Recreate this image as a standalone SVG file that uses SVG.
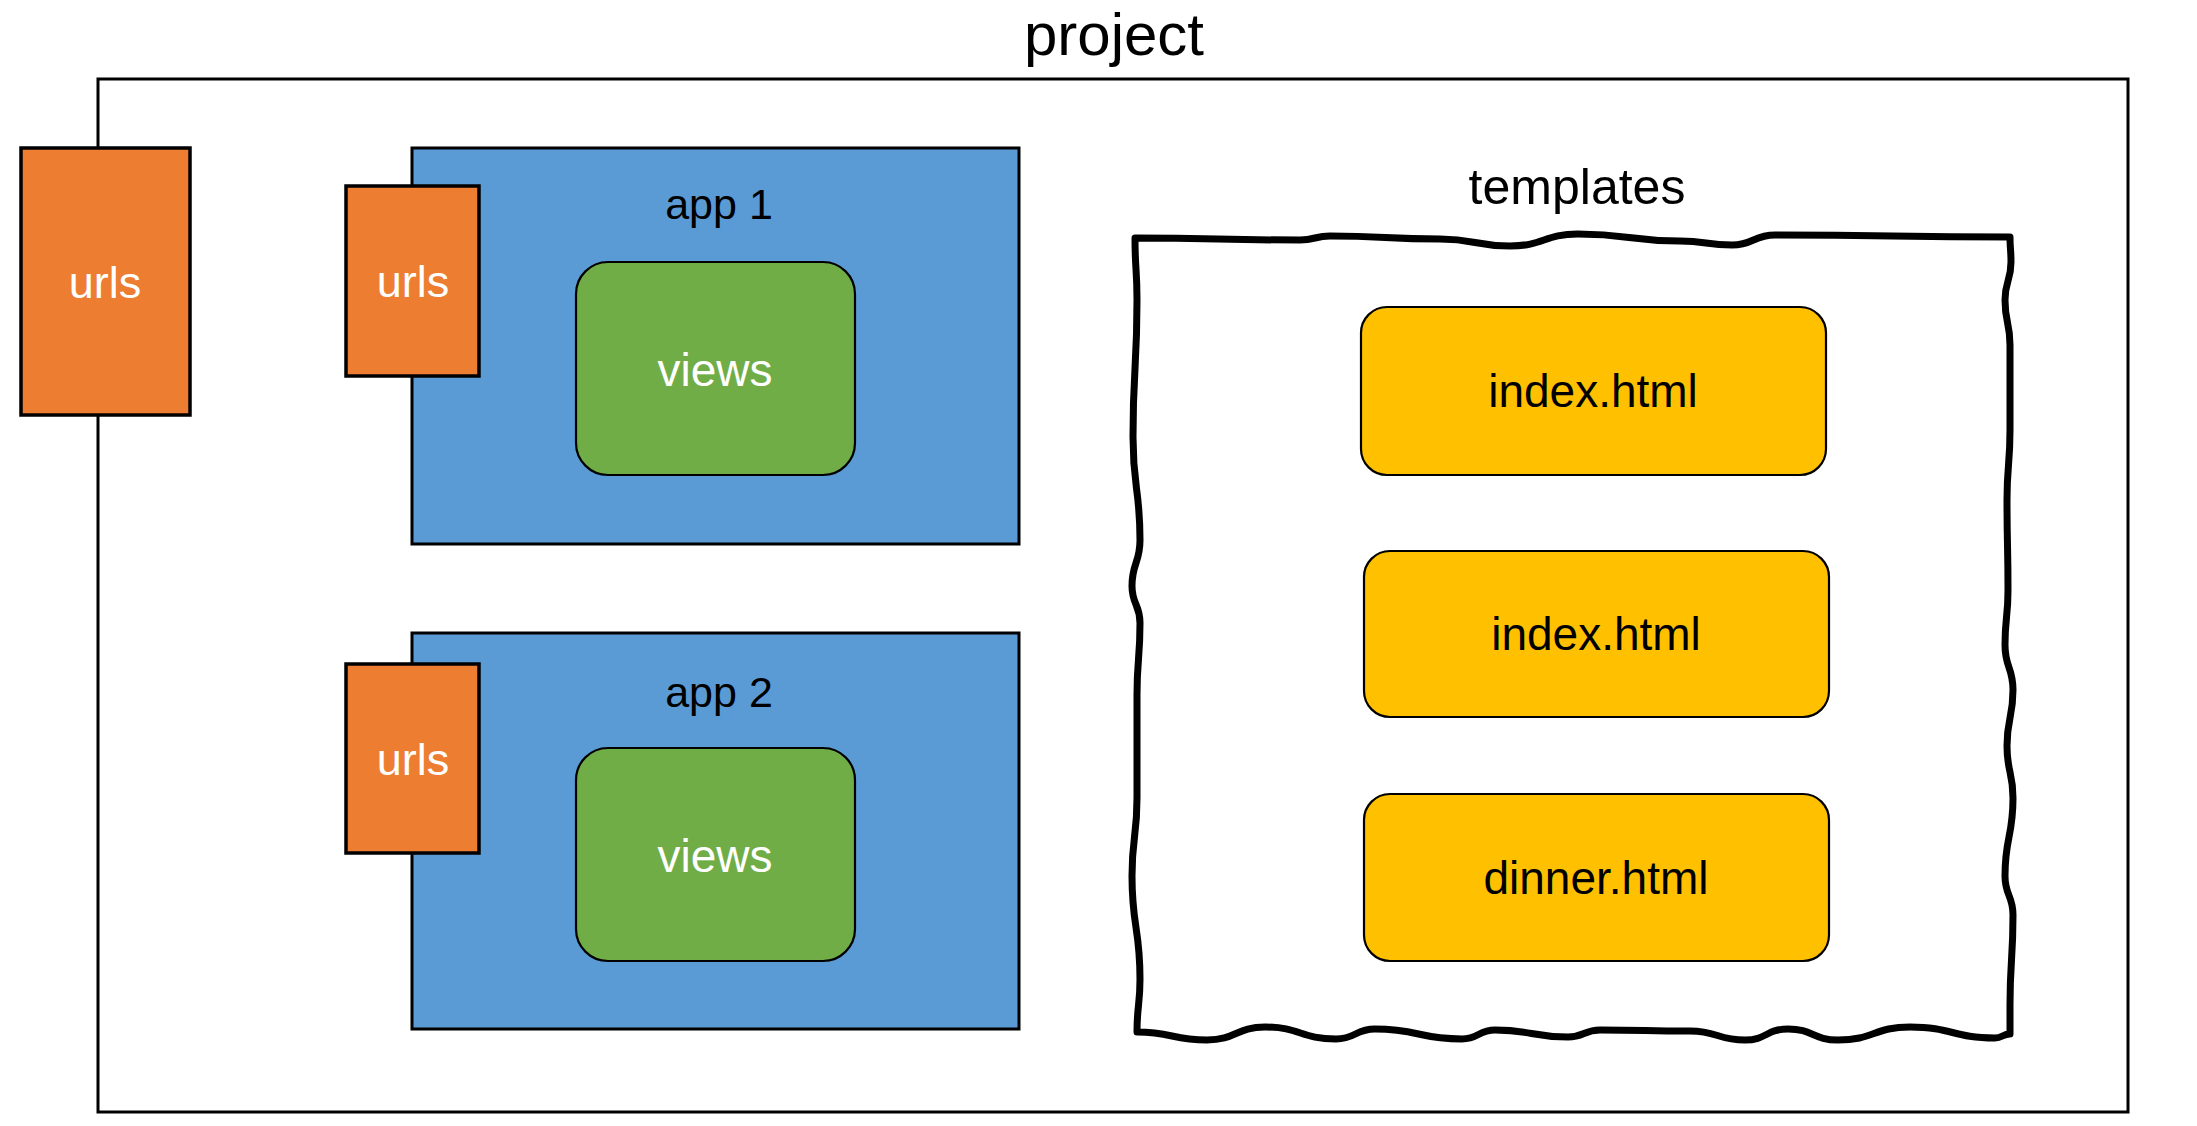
<svg xmlns="http://www.w3.org/2000/svg" width="2197" height="1126" viewBox="0 0 2197 1126">
<style>
  text { font-family: "Liberation Sans", Arial, Helvetica, sans-serif; text-anchor: middle; }
  .lbl { font-size: 46px; fill: #000; }
  .wlbl { font-size: 45px; fill: #fff; }
  .urls { fill: #ED7D31; stroke: #000; stroke-width: 3.5; }
  .app { fill: #5B9BD5; stroke: #000; stroke-width: 3; }
  .views { fill: #70AD47; stroke: #000; stroke-width: 2.2; }
  .tpl { fill: #FFC000; stroke: #000; stroke-width: 2.2; }
</style>
<rect width="2197" height="1126" fill="#fff"/>

<g id="project">
  <rect x="98" y="79" width="2030" height="1033" fill="#fff" stroke="#000" stroke-width="3"/>
  <text x="1114" y="55" style="font-size:60px;fill:#000">project</text>
</g>

<g id="project-urls">
  <rect class="urls" x="21" y="148" width="169" height="267"/>
  <text class="wlbl" x="105" y="298">urls</text>
</g>

<g id="app1">
  <rect class="app" x="412" y="148" width="607" height="396"/>
  <text class="lbl" x="719" y="219" style="font-size:43px">app 1</text>
</g>
<g id="app1-urls">
  <rect class="urls" x="346" y="186" width="133" height="190"/>
  <text class="wlbl" x="413" y="297">urls</text>
</g>
<g id="app1-views">
  <rect class="views" x="576" y="262" width="279" height="213" rx="32" ry="32"/>
  <text class="wlbl" x="715" y="386" style="font-size:46px">views</text>
</g>

<g id="app2">
  <rect class="app" x="412" y="633" width="607" height="396"/>
  <text class="lbl" x="719" y="707" style="font-size:43px">app 2</text>
</g>
<g id="app2-urls">
  <rect class="urls" x="346" y="664" width="133" height="189"/>
  <text class="wlbl" x="413" y="775">urls</text>
</g>
<g id="app2-views">
  <rect class="views" x="576" y="748" width="279" height="213" rx="32" ry="32"/>
  <text class="wlbl" x="715" y="872" style="font-size:46px">views</text>
</g>

<g id="templates">
  <path fill="#fff" stroke="#000" stroke-width="7" stroke-linejoin="round"
    d="M1135,238
       C1217.5,238 1217.5,240 1300,240 C1315,240 1315,236 1330,236 C1385,236 1385,239 1440,239 C1475,239 1475,246 1510,246 C1544,246 1544,234 1578,234 C1629,234 1629,241 1680,241 C1706,241 1706,245 1732,245 C1753.5,245 1753.5,235 1775,235 C1892.5,235 1892.5,237 2010,237
       C2010,249.5 2011,249.5 2011,262 C2011,281 2005,281 2005,300 C2005,322.5 2010,322.5 2010,345 L2010,430 C2010,465 2007,465 2007,500 C2007,545 2008,545 2008,590 C2008,617.5 2005,617.5 2005,645 C2005,667.5 2013,667.5 2013,690 C2013,718 2007,718 2007,746 C2007,772 2013,772 2013,798 C2013,837 2005,837 2005,876 C2005,895.5 2013,895.5 2013,915 C2013,960 2010,960 2010,1005 L2010,1034
       C2002.5,1034 2002.5,1038 1995,1038 C1952.5,1038 1952.5,1027 1910,1027 C1874,1027 1874,1040 1838,1040 C1813,1040 1813,1029 1788,1029 C1766.5,1029 1766.5,1040 1745,1040 C1717.5,1040 1717.5,1031 1690,1031 C1645,1031 1645,1030 1600,1030 C1584,1030 1584,1037 1568,1037 C1531.5,1037 1531.5,1030 1495,1030 C1478.5,1030 1478.5,1039 1462,1039 C1418.5,1039 1418.5,1029 1375,1029 C1355.5,1029 1355.5,1039 1336,1039 C1300.5,1039 1300.5,1027 1265,1027 C1236,1027 1236,1040 1207,1040 C1172,1040 1172,1032 1137,1032
       C1137,1005.5 1140,1005.5 1140,979 C1140,927.5 1132,927.5 1132,876 C1132,837 1137,837 1137,798 L1137,695 C1137,659 1140,659 1140,623 C1140,604.5 1132,604.5 1132,586 C1132,563 1140,563 1140,540 C1140,488.5 1133,488.5 1133,437 C1133,368.5 1137,368.5 1137,300 C1137,269 1135,269 1135,238 Z"/>
  <text class="lbl" x="1577" y="204" style="font-size:50px">templates</text>
</g>

<g id="index1">
  <rect class="tpl" x="1361" y="307" width="465" height="168" rx="26" ry="26"/>
  <text class="lbl" x="1593" y="407">index.html</text>
</g>
<g id="index2">
  <rect class="tpl" x="1364" y="551" width="465" height="166" rx="26" ry="26"/>
  <text class="lbl" x="1596" y="650">index.html</text>
</g>
<g id="dinner">
  <rect class="tpl" x="1364" y="794" width="465" height="167" rx="26" ry="26"/>
  <text class="lbl" x="1596" y="894">dinner.html</text>
</g>
</svg>
